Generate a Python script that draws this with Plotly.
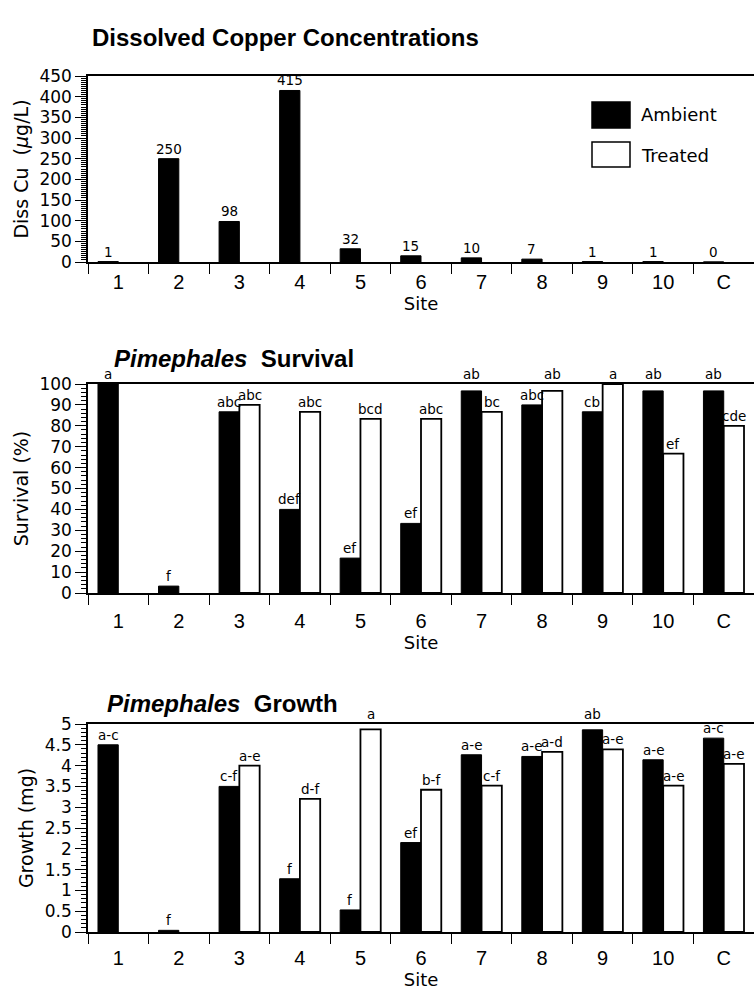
import plotly.graph_objects as go
from plotly.subplots import make_subplots

sites = ["1", "2", "3", "4", "5", "6", "7", "8", "9", "10", "C"]

# Dissolved copper (ug/L)
cu_ambient = [1, 250, 98, 415, 32, 15, 10, 7, 1, 1, 0]
cu_treated = [None] * 11
cu_labels = ["1", "250", "98", "415", "32", "15", "10", "7", "1", "1", "0"]

# Survival (%)
surv_ambient = [100, 3.3, 86.7, 40, 16.7, 33.3, 96.7, 90, 86.7, 96.7, 96.7]
surv_treated = [None, None, 90, 86.7, 83.3, 83.3, 86.7, 96.7, 100, 66.7, 80]
surv_amb_lbl = ["a", "f", "abc", "def", "ef", "ef", "ab", "abc", "cb", "ab", "ab"]
surv_trt_lbl = ["", "", "abc", "abc", "bcd", "abc", "bc", "ab", "a", "ef", "cde"]

# Growth (mg)
grow_ambient = [4.5, 0.04, 3.5, 1.28, 0.53, 2.15, 4.26, 4.22, 4.86, 4.14, 4.66]
grow_treated = [None, None, 4.0, 3.2, 4.87, 3.42, 3.52, 4.33, 4.39, 3.52, 4.04]
grow_amb_lbl = ["a-c", "f", "c-f", "f", "f", "ef", "a-e", "a-e", "ab", "a-e", "a-c"]
grow_trt_lbl = ["", "", "a-e", "d-f", "a", "b-f", "c-f", "a-d", "a-e", "a-e", "a-e"]

W, H = 754, 990
L, R = 88, 0
SANS = "Liberation Sans, Arial, Helvetica, sans-serif"
WIDE = "DejaVu Sans, Verdana, sans-serif"
BARGAP = 0.33
BAR_PX = (W - L - R) / len(sites) * (1 - BARGAP) / 2


def px_x(p):
    return (p - L) / (W - L - R)


def px_y(p):
    return 1 - p / H


fig = make_subplots(rows=3, cols=1)

panels = [
    (cu_ambient, cu_treated, cu_labels, [""] * 11),
    (surv_ambient, surv_treated, surv_amb_lbl, surv_trt_lbl),
    (grow_ambient, grow_treated, grow_amb_lbl, grow_trt_lbl),
]
yranges = [[0, 450], [0, 100], [0, 5]]

for i, (amb, trt, albl, tlbl) in enumerate(panels, start=1):
    fig.add_trace(go.Bar(x=sites, y=amb, name="Ambient",
                         marker=dict(color="black", line=dict(color="black", width=1)),
                         showlegend=False), row=i, col=1)
    fig.add_trace(go.Bar(x=sites, y=trt, name="Treated",
                         marker=dict(color="white", line=dict(color="black", width=1.8)),
                         showlegend=False), row=i, col=1)
    ymax = yranges[i - 1][1]
    sfx = "" if i == 1 else str(i)
    for vals, lbls, sh in [(amb, albl, -BAR_PX / 2), (trt, tlbl, BAR_PX / 2)]:
        for j, (v, t) in enumerate(zip(vals, lbls)):
            if v is None or not t:
                continue
            # labels that would run into the frame are lifted above it
            yv = ymax if v > 0.95 * ymax else v
            fig.add_annotation(x=j, y=yv, xref="x" + sfx, yref="y" + sfx,
                               text=t, showarrow=False, xanchor="center",
                               yanchor="bottom", xshift=sh, yshift=0,
                               font=dict(size=13.5, family=WIDE, color="black"))

# domains in pixel terms
doms = [(262, 76), (593, 384), (932, 724)]
dticks = [50, 10, 0.5]
minors = [5, 2, 0.1]
ytitles = ["Diss Cu  (<i>μ</i>g/L)", "Survival (%)", "Growth (mg)"]
tl_stand = [1, 9, 7]
site_stand = [0, 5, 1]

for i in range(3):
    sfx = "" if i == 0 else str(i + 1)
    b, t = doms[i]
    fig.layout["yaxis" + sfx].update(
        domain=[px_y(b), px_y(t)], range=yranges[i], dtick=dticks[i], tick0=0,
        automargin=False,
        showline=True, linecolor="black", linewidth=1.5,
        ticks="outside", ticklen=11, tickwidth=1.2, tickcolor="black",
        minor=dict(dtick=minors[i], ticks="outside", ticklen=5, tickcolor="black", tickwidth=1),
        showgrid=False, zeroline=False,
        tickfont=dict(size=17, family=WIDE, color="black"),
        title=dict(text=ytitles[i], font=dict(size=19, family=WIDE, color="black"), standoff=6),
    )
    fig.layout["xaxis" + sfx].update(
        domain=[0, 1], automargin=False,
        showline=True, linecolor="black", linewidth=1.5, mirror=True,
        ticks="outside", tickson="boundaries", ticklen=10, tickwidth=1.2, tickcolor="black",
        showgrid=False, ticklabelstandoff=tl_stand[i],
        tickfont=dict(size=20, family=SANS, color="black"),
        title=dict(text="Site", font=dict(size=18, family=WIDE, color="black"),
                   standoff=site_stand[i]),
    )

fig.update_layout(
    width=W, height=H,
    margin=dict(l=L, r=R, t=0, b=0, pad=0),
    plot_bgcolor="white", paper_bgcolor="white",
    barmode="group", bargap=BARGAP, bargroupgap=0,
    font=dict(family=SANS, color="black"),
    showlegend=False,
)

# titles
titles = [
    ("<b>Dissolved Copper Concentrations</b>", 90, 37),
    ("<b><i>Pimephales</i>  Survival</b>", 112, 358),
    ("<b><i>Pimephales</i>  Growth</b>", 105, 703),
]
for txt, x, y in titles:
    fig.add_annotation(text=txt, x=px_x(x), y=px_y(y), xref="paper", yref="paper",
                       xanchor="left", yanchor="middle", showarrow=False,
                       font=dict(size=24, family=SANS, color="black"))

# legend (drawn)
fig.add_shape(type="rect", xref="paper", yref="paper",
              x0=px_x(592), x1=px_x(630), y0=px_y(128), y1=px_y(102),
              fillcolor="black", line=dict(color="black", width=1.5))
fig.add_shape(type="rect", xref="paper", yref="paper",
              x0=px_x(592), x1=px_x(630), y0=px_y(167), y1=px_y(142),
              fillcolor="white", line=dict(color="black", width=1.5))
for txt, y in [("Ambient", 115), ("Treated", 155)]:
    fig.add_annotation(text=txt, x=px_x(639), y=px_y(y), xref="paper", yref="paper",
                       xanchor="left", yanchor="middle", showarrow=False,
                       font=dict(size=18, family=WIDE, color="black"))

fig.write_html("out.html")
